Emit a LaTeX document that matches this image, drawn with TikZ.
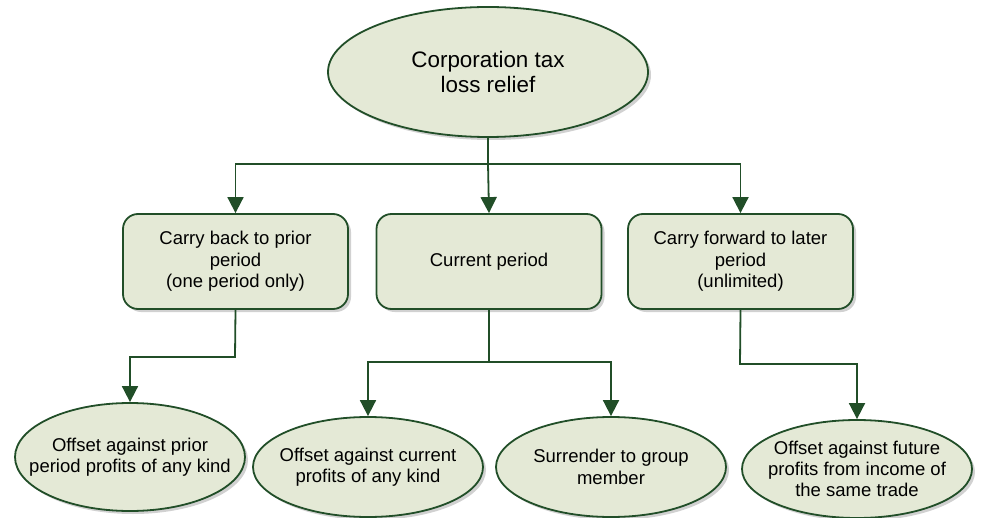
\documentclass[tikz,border=0pt]{standalone}
\usepackage{fontspec}
\setmainfont{Liberation Sans}
\usetikzlibrary{shapes.geometric,shadows,arrows.meta}
\definecolor{fillg}{RGB}{228,233,214}
\definecolor{lineg}{RGB}{33,78,40}
\begin{document}
\begin{tikzpicture}[x=1pt,y=-1pt,
  shad/.style={drop shadow={shadow xshift=3pt,shadow yshift=-3pt,opacity=0.3,fill=black!60}},
  ell/.style={ellipse,draw=lineg,line width=1.8pt,fill=fillg,inner xsep=-40pt,inner ysep=-10pt,align=center,shad,
    font=\fontsize{18.5}{21.3}\selectfont},
  rbox/.style={rectangle,rounded corners=15pt,draw=lineg,line width=1.8pt,fill=fillg,inner sep=0pt,
    minimum width=225pt,minimum height=95pt,align=center,shad,font=\fontsize{18.5}{21.3}\selectfont},
  arr/.style={draw=lineg,line width=1.8pt,-{Triangle[length=16pt,width=16pt]}},
  ln/.style={draw=lineg,line width=1.8pt}]
\useasboundingbox (0,0) rectangle (981,518);
\node[ell,minimum width=320pt,minimum height=130pt,font=\fontsize{22.4}{25.5}\selectfont] (top) at (488,72) {Corporation tax\\loss relief};
\node[rbox] (b1) at (235.5,261.5) {Carry back to prior\\period\\(one period only)};
\node[rbox] (b2) at (489,261.5) {Current period};
\node[rbox] (b3) at (740.5,261.5) {Carry forward to later\\period\\(unlimited)};
\node[ell,minimum width=230pt,minimum height=108pt] (e1) at (130,457) {Offset against prior\\period profits of any kind};
\node[ell,minimum width=230pt,minimum height=100pt] (e2) at (368,467) {Offset against current\\profits of any kind};
\node[ell,minimum width=230pt,minimum height=100pt] (e3) at (611,467) {Surrender to group\\member};
\node[ell,minimum width=230pt,minimum height=98pt] (e4) at (857,469) {Offset against future\\profits from income of\\the same trade};
\coordinate (j0) at (488,164);
\coordinate (j1) at (235,357);
\coordinate (j2) at (489,362);
\coordinate (j3) at (740,364);
\draw[ln] (top.south) -- (j0);
\draw[arr] (j0) -| (b1.north);
\draw[arr] (j0) -- (b2.north);
\draw[arr] (j0) -| (b3.north);
\draw[arr] (b1.south) -- (j1) -| (e1.north);
\draw[ln] (b2.south) -- (j2);
\draw[arr] (j2) -| (e2.north);
\draw[arr] (j2) -| (e3.north);
\draw[arr] (b3.south) -- (j3) -| (e4.north);
\end{tikzpicture}
\end{document}
